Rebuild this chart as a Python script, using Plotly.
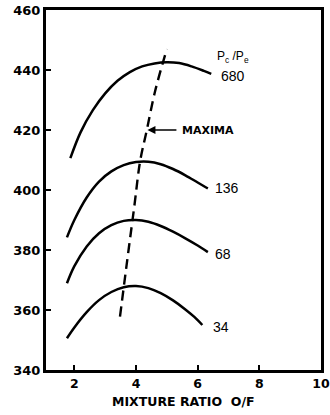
import plotly.graph_objects as go

# Data
x34 = [1.76, 2.0, 2.4, 2.8, 3.2, 3.6, 4.0, 4.4, 4.8, 5.2, 5.6, 5.9, 6.15]
y34 = [350.6, 354.2, 359.3, 363.3, 366.0, 367.6, 368.0, 367.3, 365.6, 363.2, 360.2, 357.6, 355.0]
x68 = [1.76, 2.0, 2.4, 2.8, 3.2, 3.6, 4.0, 4.4, 4.8, 5.2, 5.6, 6.0, 6.33]
y68 = [368.9, 374.6, 381.2, 385.6, 388.3, 389.7, 390.0, 389.4, 388.0, 386.1, 383.9, 381.5, 379.3]
x136 = [1.76, 2.0, 2.4, 2.8, 3.2, 3.6, 4.0, 4.4, 4.8, 5.2, 5.6, 6.0, 6.33]
y136 = [384.2, 390.0, 397.5, 402.8, 406.2, 408.3, 409.3, 409.4, 408.6, 407.0, 404.9, 402.5, 400.5]
x680 = [1.87, 2.2, 2.6, 3.0, 3.4, 3.8, 4.2, 4.6, 5.0, 5.4, 5.8, 6.2, 6.44]
y680 = [410.6, 419.2, 426.6, 432.2, 436.4, 439.3, 441.2, 442.2, 442.6, 442.3, 441.2, 439.7, 438.7]
x_max = [3.48, 3.72, 3.95, 4.13, 4.35, 4.62, 5.00]
y_max = [357.8, 377.0, 395.0, 409.4, 420.0, 433.0, 447.0]

series = [(x34, y34, "34"), (x68, y68, "68"), (x136, y136, "136"), (x680, y680, "680")]
label_pos = {"34": (6.77, 354.3), "68": (6.81, 378.8), "136": (6.95, 400.8), "680": (7.13, 438.0)}

x_ticks = [2, 4, 6, 8, 10]
y_ticks = [340, 360, 380, 400, 420, 440, 460]

fig = go.Figure()
for xs, ys, name in series:
    fig.add_trace(go.Scatter(x=xs, y=ys, mode="lines",
                             line=dict(color="black", width=2.5, shape="spline", smoothing=1.0),
                             showlegend=False, hoverinfo="skip"))
fig.add_trace(go.Scatter(x=x_max, y=y_max, mode="lines",
                         line=dict(color="black", width=2.4, dash="10px,6px", shape="spline"),
                         showlegend=False, hoverinfo="skip"))

lab_font = dict(family="Liberation Sans", size=14, color="black")
for name, (lx, ly) in label_pos.items():
    fig.add_annotation(x=lx, y=ly, text=name, showarrow=False, font=lab_font, xanchor="center", yanchor="middle")
fig.add_annotation(x=7.16, y=444.5, text="P<sub>c</sub> /P<sub>e</sub>", showarrow=False,
                   font=dict(family="Liberation Sans", size=12, color="black"), xanchor="center", yanchor="middle")

# MAXIMA label with arrow pointing to the dashed line
fig.add_annotation(x=4.37, y=420, ax=5.44, ay=420, axref="x", ayref="y", xref="x", yref="y",
                   text="MAXIMA", xanchor="left", yanchor="middle", showarrow=True,
                   arrowhead=2, arrowsize=1, arrowwidth=1.6, arrowcolor="black", startstandoff=4,
                   font=dict(family="DejaVu Sans", size=11, color="black", weight="bold"))

# x-axis title
fig.add_annotation(x=0.5, y=-0.0875, xref="paper", yref="paper", text="MIXTURE RATIO&nbsp;&nbsp;O/F",
                   showarrow=False, xanchor="center", yanchor="middle",
                   font=dict(family="DejaVu Sans", size=12.5, color="black", weight="bold"))

axis_common = dict(showline=True, linecolor="black", linewidth=3, mirror=True, ticks="inside",
                   ticklen=5, tickwidth=2, tickcolor="black", showgrid=False, zeroline=False,
                   automargin=False)
fig.update_xaxes(range=[1.08, 10], tickvals=x_ticks, ticktext=[str(v) for v in x_ticks],
                 tickfont=dict(family="DejaVu Sans", size=12.5, color="black", weight="bold"),
                 ticklabeloverflow="allow", **axis_common)
fig.update_yaxes(range=[340, 460], tickvals=y_ticks, ticktext=[str(v) for v in y_ticks],
                 tickfont=dict(family="DejaVu Sans", size=13, color="black", weight="bold"),
                 ticklabeloverflow="allow", **axis_common)

fig.update_layout(width=330, height=415, margin=dict(l=46, r=9, t=10, b=45, autoexpand=False),
                  plot_bgcolor="white", paper_bgcolor="white")
fig.write_html("out.html", config={"displayModeBar": False},
               post_script="document.body.style.margin='0';document.body.style.overflow='hidden';")
